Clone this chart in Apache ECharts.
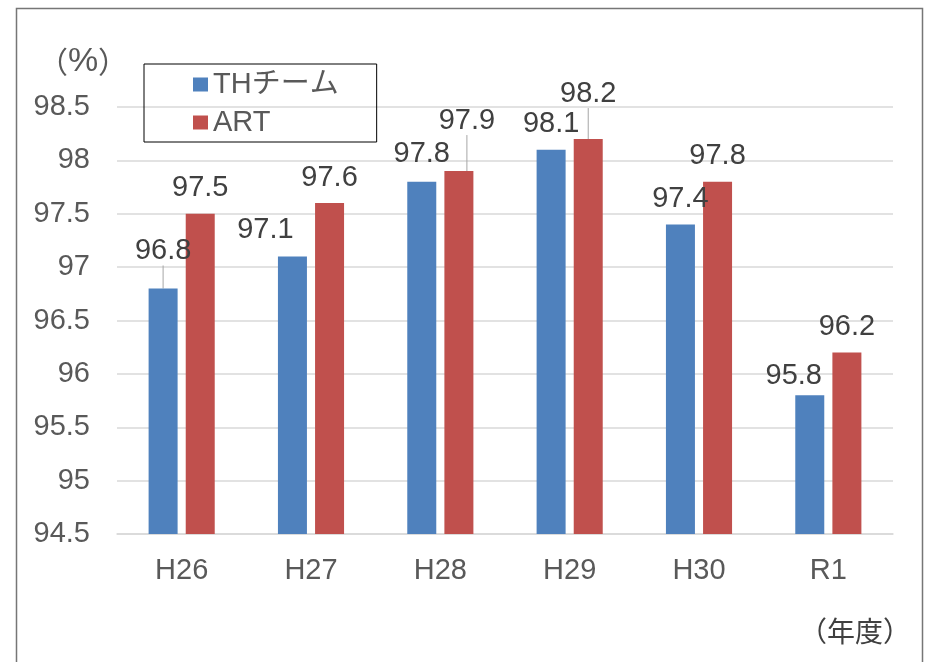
<!DOCTYPE html>
<html>
<head>
<meta charset="utf-8">
<script src="https://cdn.jsdelivr.net/npm/echarts@6/dist/echarts.min.js"></script>
<style>
  html, body { margin: 0; padding: 0; background: #ffffff; }
  #chart { width: 928px; height: 662px; }
</style>
</head>
<body>
<div id="chart"></div>
<script>
// Fiscal years on the category axis
var years = ['H26', 'H27', 'H28', 'H29', 'H30', 'R1'];
// Rates (%) per team
var thTeam = [96.8, 97.1, 97.8, 98.1, 97.4, 95.8];
var art = [97.5, 97.6, 97.9, 98.2, 97.8, 96.2];
var seriesNames = ['THチーム', 'ART'];
// Value axis range
var yMin = 94.5, yMax = 98.5, yStep = 0.5;

// Hand-placed label nudges [dx, dy] and whether a leader line is drawn
var labelNudge = [
  [[0, -12], [-27, -1], [0, -2], [0, 0], [0, 0], [-16, 6]],
  [[0, 0], [0, 0], [8, -25], [0, -20], [0, 0], [0, 0]]
];
var leader = [
  [true, false, false, false, false, false],
  [false, false, true, true, false, false]
];

var FONT = '"Liberation Sans", Arial, "Noto Sans CJK JP", sans-serif';
var FS = 29;
var colors = ['#4F81BD', '#C0504D'];

function buildData(values, s) {
  return values.map(function (v, i) {
    var item = { value: v };
    if (leader[s][i]) {
      item.labelLine = { show: true, lineStyle: { color: '#A6A6A6', width: 1 } };
    }
    return item;
  });
}

function makeSeries(values, s) {
  return {
    name: seriesNames[s],
    type: 'bar',
    barWidth: 29,
    barGap: '28%',
    itemStyle: { color: colors[s] },
    data: buildData(values, s),
    label: {
      show: true,
      position: 'top',
      distance: 11,
      color: '#404040',
      fontFamily: FONT,
      fontSize: FS,
      formatter: function (p) { return p.value.toFixed(1); }
    },
    labelLine: { show: false },
    labelLayout: function (p) {
      var n = labelNudge[s][p.dataIndex];
      return { dx: n[0], dy: n[1] };
    }
  };
}

var chart = echarts.init(document.getElementById('chart'), null, { renderer: 'canvas' });
chart.setOption({
  animation: false,
  backgroundColor: '#ffffff',
  textStyle: { fontFamily: FONT },
  grid: { left: 117, right: 35, top: 107, bottom: 128, containLabel: false },
  legend: {
    orient: 'vertical',
    left: 144,
    top: 64,
    padding: [6, 38, 5, 49],
    itemGap: 9,
    itemWidth: 15,
    itemHeight: 14,
    icon: 'rect',
    borderColor: '#000000',
    borderWidth: 1,
    textStyle: { color: '#595959', fontSize: FS, fontFamily: FONT, lineHeight: 28 },
    data: seriesNames
  },
  xAxis: {
    type: 'category',
    data: years,
    axisLine: { show: true, lineStyle: { color: '#D9D9D9', width: 1.5 } },
    axisTick: { show: false },
    axisLabel: { color: '#595959', fontSize: FS, fontFamily: FONT, margin: 22 }
  },
  yAxis: {
    type: 'value',
    min: yMin,
    max: yMax,
    interval: yStep,
    axisLine: { show: false },
    axisTick: { show: false },
    splitLine: { lineStyle: { color: '#D9D9D9', width: 1.5 } },
    axisLabel: {
      color: '#595959', fontSize: FS, fontFamily: FONT, margin: 27,
      formatter: function (v) { return String(Math.round(v * 10) / 10); }
    }
  },
  graphic: [
    {
      type: 'rect',
      silent: true,
      shape: { x: 16.5, y: 8.5, width: 906, height: 700 },
      style: { fill: null, stroke: '#767676', lineWidth: 1.5 }
    },
    {
      type: 'text',
      x: 83, y: 62,
      style: {
        text: '{p|（}{q|%}{p|）}',
        textAlign: 'center', textVerticalAlign: 'middle',
        rich: {
          p: { fill: '#595959', fontSize: 30, fontFamily: '"Noto Sans CJK JP", sans-serif' },
          q: { fill: '#595959', fontSize: 34, fontFamily: FONT }
        }
      }
    },
    {
      type: 'text',
      x: 855, y: 634,
      style: {
        text: '（年度）', fill: '#404040', fontSize: 28, fontFamily: FONT,
        textAlign: 'center', textVerticalAlign: 'middle'
      }
    }
  ],
  series: [makeSeries(thTeam, 0), makeSeries(art, 1)]
});
</script>
</body>
</html>
